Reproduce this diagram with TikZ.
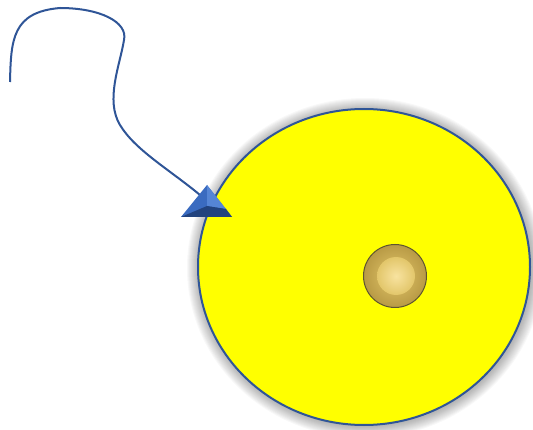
\documentclass[tikz,border=0pt]{standalone}
\usetikzlibrary{shapes.geometric}
\definecolor{pureyellow}{RGB}{255,255,0}
\definecolor{lineblue}{HTML}{2F5597}
\definecolor{triblue}{HTML}{3A6BC0}
\definecolor{trilight}{HTML}{5585D5}
\definecolor{tridark}{HTML}{22437E}
\definecolor{goldedge}{HTML}{5E5430}
\definecolor{goldout}{HTML}{B89A45}
\definecolor{goldmid}{HTML}{E2C66A}
\definecolor{goldin}{HTML}{F8E3A0}
\tikzset{
  wire/.style={draw=lineblue, line width=2pt},
  disc/.style={draw=lineblue, line width=2pt, fill=pureyellow},
}
\begin{document}
\begin{tikzpicture}[x=1pt,y=-1pt]
\useasboundingbox (0,0) rectangle (533,430);
% glow shadow
\foreach \r in {12,11,...,1}{
  \fill[black, opacity=0.028] (365,268) ellipse [x radius={166+\r}, y radius={158+\r}];
}
\path[disc] (364,267) ellipse [x radius=166, y radius=158];
\node[ellipse, minimum width=332pt, minimum height=316pt, inner sep=0pt] (big) at (364,267) {};
% small gold button
\node[circle, minimum size=63pt, inner sep=0pt, draw=goldedge, line width=1pt,
      inner color=goldmid, outer color=goldout] (knob) at (395,276) {};
\node[circle, minimum size=38pt, inner sep=0pt, inner color=goldin, outer color=goldmid] (knobin) at (396,276) {};
% curve
\coordinate (start) at (10,82);
\coordinate (p1) at (60,8);
\coordinate (p2) at (124,40);
\coordinate (p3) at (120,125);
\coordinate (tip) at (200,195);
\draw[wire] (start) .. controls (11,40) and (12,12) .. (p1)
  .. controls (100,8) and (128,22) .. (p2)
  .. controls (120,65) and (105,100) .. (p3)
  .. controls (135,150) and (170,170) .. (tip);
% arrow head (pyramid)
\coordinate (apex) at (207,185);
\coordinate (bl) at (181,217);
\coordinate (br) at (232,217);
\coordinate (mid) at (207,206);
\fill[triblue] (apex) -- (br) -- (bl) -- cycle;
\fill[trilight] (apex) -- (mid) -- (226,209) -- cycle;
\fill[tridark] (bl) -- (mid) -- (226,209) -- (br) -- cycle;
\end{tikzpicture}
\end{document}
